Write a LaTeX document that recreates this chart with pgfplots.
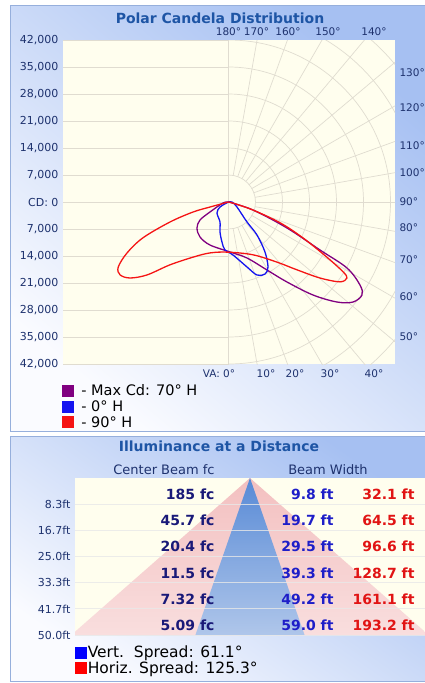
\documentclass[border=0pt]{standalone}
\usepackage{pgfplots}
\pgfplotsset{compat=1.18}
\usepackage{fontspec}
\setmainfont{DejaVu Sans}
\setsansfont{DejaVu Sans}
\definecolor{cream}{RGB}{255,254,238}
\definecolor{gridc}{RGB}{224,220,208}
\definecolor{navy}{RGB}{30,50,110}
\definecolor{titleblue}{RGB}{30,85,165}
\definecolor{panelblue}{RGB}{166,192,242}
\definecolor{panelwhite}{RGB}{250,251,255}
\definecolor{panelborder}{RGB}{150,175,220}
\definecolor{cdpurple}{RGB}{128,0,128}
\definecolor{cdblue}{RGB}{20,20,240}
\definecolor{cdred}{RGB}{245,20,20}
\definecolor{fcnavy}{RGB}{25,25,120}
\definecolor{vblue}{RGB}{30,30,200}
\definecolor{hred}{RGB}{225,20,20}
\definecolor{sqblue}{RGB}{0,0,255}
\definecolor{sqred}{RGB}{255,0,0}
\definecolor{pinktop}{RGB}{243,192,192}
\definecolor{pinkbot}{RGB}{249,222,222}
\definecolor{bluetop}{RGB}{88,138,214}
\definecolor{bluebot}{RGB}{175,198,234}
\begin{document}
\begin{tikzpicture}
\path[use as bounding box] (0pt,0pt) rectangle (425pt,-683pt);
\begin{scope}[x=1pt,y=1pt]
% ---------- panels ----------
\shade[shading=axis, top color=panelblue, bottom color=panelwhite, shading angle=-40] (10.5,-5) rectangle (432,-431);
\draw[panelborder] (10.5,-5) rectangle (432,-431);
\shade[shading=axis, top color=panelblue, bottom color=panelwhite, shading angle=-35] (10.5,-436) rectangle (432,-681);
\draw[panelborder] (10.5,-436) rectangle (432,-681);
% ---------- polar grid ----------
\begin{scope}
\clip (63,-40) rectangle (395,-364);
\fill[cream] (63,-40) rectangle (395,-364);
\foreach \k in {1,...,6} {
  \draw[gridc, line width=0.7pt] (63,-202+27*\k) -- (228.5,-202+27*\k);
  \draw[gridc, line width=0.7pt] (63,-202-27*\k) -- (228.5,-202-27*\k);
}
\draw[gridc, line width=0.7pt] (63,-202) -- (228.5,-202);
\draw[gridc, line width=0.7pt] (228.5,-40) -- (228.5,-364);
\foreach \k in {1,...,8} \draw[gridc, line width=0.7pt] (228.5,-202+27*\k) arc[start angle=90,end angle=-90,radius=27*\k];
\foreach \a in {0,10,...,180} \draw[gridc, line width=0.7pt] (228.5,-202) ++({\a-90}:27) -- ++({\a-90}:320);
\end{scope}
% ---------- titles and angle labels ----------
\node[font=\bfseries\fontsize{14}{16}\selectfont, text=titleblue] at (220,-18) {Polar Candela Distribution};
\begin{scope}[font=\fontsize{10.5}{12}\selectfont, text=navy]
\node at (228.5,-32) {180°};
\node at (256.5,-32) {170°};
\node at (288,-32) {160°};
\node at (328,-32) {150°};
\node at (374,-32) {140°};
\node[anchor=west] at (396,-73) {130°};
\node[anchor=west] at (396,-108) {120°};
\node[anchor=west] at (396,-146) {110°};
\node[anchor=west] at (396,-173) {100°};
\node[anchor=west] at (396,-202) {90°};
\node[anchor=west] at (396,-228) {80°};
\node[anchor=west] at (396,-260) {70°};
\node[anchor=west] at (396,-297) {60°};
\node[anchor=west] at (396,-337) {50°};
\node at (219,-374) {VA: 0°};
\node at (266,-374) {10°};
\node at (295,-374) {20°};
\node at (330,-374) {30°};
\node at (374,-374) {40°};
\end{scope}
\node[font=\bfseries\fontsize{14}{16}\selectfont, text=titleblue] at (219,-446) {Illuminance at a Distance};
\node[font=\fontsize{13}{15}\selectfont, text=navy] at (164,-470) {Center Beam fc};
\node[font=\fontsize{13}{15}\selectfont, text=navy] at (328,-470) {Beam Width};
\end{scope}
% ---------- polar axis ----------
\begin{axis}[at={(63pt,-364pt)}, anchor=south west, scale only axis,
  width=332pt, height=324pt,
  xmin=-42908, xmax=43167, ymin=-42000, ymax=42000,
  axis line style={draw=none}, xtick=\empty, major tick length=0pt,
  scaled y ticks=false,
  ytick={-42000,-35000,-28000,-21000,-14000,-7000,0,7000,14000,21000,28000,35000,42000},
  yticklabels={{42,000},{35,000},{28,000},{21,000},{14,000},{7,000},{CD: 0},{7,000},{14,000},{21,000},{28,000},{35,000},{42,000}},
  yticklabel style={font=\fontsize{11}{12}\selectfont, text=navy, xshift=-1pt},
  legend style={at={(axis description cs:-0.003,-0.058)}, anchor=north west, draw=none, fill=none,
    font=\fontsize{14.5}{15}\selectfont, text=black, inner sep=0pt, row sep=0.5pt,
    nodes={inner sep=1.5pt}},
  legend cell align=left,
  legend image code/.code={\fill[draw=none] (0pt,-6pt) rectangle (12pt,6pt); \path (17pt,0pt);},
]
\addplot[cdpurple, line width=1.3pt, smooth, tension=0.55] coordinates {
(0,0) (6350,-2070) (15170,-6740) (23720,-12440) (30720,-17110) (34090,-21520) (34610,-24110)
(32280,-25930) (28130,-25930) (21910,-24110) (15170,-20740) (9980,-17630) (4800,-14520)
(390,-12960) (-4800,-11150) (-7390,-9070) (-8170,-6740) (-7390,-4670) (-4800,-2590) (-1430,-260) (0,0)};
\addlegendentry{- Max Cd: 70° H}
\addplot[cdblue, line width=1.3pt, smooth, tension=0.55] coordinates {
(0,0) (-2200,-1300) (-2980,-2850) (-2200,-5190) (-2200,-7780) (-1690,-10370) (-910,-12440)
(1170,-13740) (4800,-16850) (7390,-18930) (9460,-18670) (10240,-16850) (9460,-12960)
(7390,-8560) (4800,-5190) (2200,-1300) (910,0) (0,0)};
\addlegendentry{- 0° H}
\addplot[cdred, line width=1.3pt, smooth, tension=0.55] coordinates {
(0,0) (-4800,-1300) (-9200,-2600) (-15200,-5200) (-22200,-9300) (-26300,-13200) (-28600,-16900)
(-28100,-18900) (-25500,-19700) (-21100,-18900) (-15200,-16300) (-9200,-14300) (-4800,-13200)
(-100,-13000) (6400,-13700) (12600,-15600) (17800,-17600) (23700,-19700) (28900,-20700)
(30700,-19700) (29700,-18100) (25500,-14300) (19300,-9300) (13400,-5400) (6400,-2100) (1200,-300) (0,0)};
\addlegendentry{- 90° H}
\end{axis}
% ---------- illuminance axis ----------
\begin{axis}[at={(75pt,-635pt)}, anchor=south west, scale only axis,
  width=350pt, height=157pt,
  xmin=-94.6, xmax=94.6, ymin=0, ymax=50, y dir=reverse,
  axis line style={draw=none}, xtick=\empty, major tick length=0pt,
  axis background/.style={fill=cream},
  ytick={8.333,16.667,25,33.333,41.667,50},
  yticklabels={8.3ft,16.7ft,25.0ft,33.3ft,41.7ft,50.0ft},
  yticklabel style={font=\fontsize{11}{12}\selectfont, text=navy, xshift=-1pt},
  ymajorgrids, grid style={draw=white!82!gray, line width=0.8pt, opacity=0.8},
  axis on top,
  legend style={at={(axis description cs:0,-0.06)}, anchor=north west, draw=none, fill=none,
    font=\fontsize{15.5}{16}\selectfont, text=black, inner sep=0pt, row sep=0pt,
    nodes={inner sep=1.2pt}},
  legend cell align=left,
]
\addplot[draw=none, top color=pinktop, bottom color=pinkbot, forget plot] coordinates {(0,0) (-96.6,50) (96.6,50)};
\addplot[draw=none, top color=bluetop, bottom color=bluebot, forget plot] coordinates {(0,0) (-29.5,50) (29.5,50)};
\addlegendimage{legend image code/.code={\fill[sqblue] (0pt,-5.5pt) rectangle (11pt,5.5pt);}}
\addlegendentry{Vert.\ \ Spread: 61.1°}
\addlegendimage{legend image code/.code={\fill[sqred] (0pt,-5.5pt) rectangle (11pt,5.5pt);}}
\addlegendentry{Horiz. Spread: 125.3°}
\end{axis}
% values
\begin{scope}[x=1pt,y=1pt,font=\bfseries\fontsize{14}{16}\selectfont]
\node[anchor=base east, text=fcnavy] at (218,-499.5) {185 fc};
\node[anchor=base east, text=fcnavy] at (218,-525.6) {45.7 fc};
\node[anchor=base east, text=fcnavy] at (218,-551.8) {20.4 fc};
\node[anchor=base east, text=fcnavy] at (218,-578) {11.5 fc};
\node[anchor=base east, text=fcnavy] at (218,-604.1) {7.32 fc};
\node[anchor=base east, text=fcnavy] at (218,-630.3) {5.09 fc};
\node[anchor=base east, text=vblue] at (337,-499.5) {9.8 ft};
\node[anchor=base east, text=vblue] at (337,-525.6) {19.7 ft};
\node[anchor=base east, text=vblue] at (337,-551.8) {29.5 ft};
\node[anchor=base east, text=vblue] at (337,-578) {39.3 ft};
\node[anchor=base east, text=vblue] at (337,-604.1) {49.2 ft};
\node[anchor=base east, text=vblue] at (337,-630.3) {59.0 ft};
\node[anchor=base east, text=hred] at (418,-499.5) {32.1 ft};
\node[anchor=base east, text=hred] at (418,-525.6) {64.5 ft};
\node[anchor=base east, text=hred] at (418,-551.8) {96.6 ft};
\node[anchor=base east, text=hred] at (418,-578) {128.7 ft};
\node[anchor=base east, text=hred] at (418,-604.1) {161.1 ft};
\node[anchor=base east, text=hred] at (418,-630.3) {193.2 ft};
\end{scope}
\end{tikzpicture}
\end{document}
